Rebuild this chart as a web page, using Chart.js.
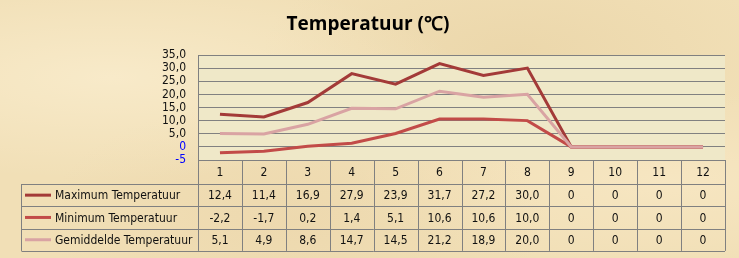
<!DOCTYPE html>
<html>
<head>
<meta charset="utf-8">
<script src="https://cdn.jsdelivr.net/npm/chart.js@4"></script>
<style>
  html, body { margin: 0; padding: 0; }
  body {
    width: 739px; height: 258px; overflow: hidden;
    background-color: #f1dfb6;
    background-image:
      radial-gradient(ellipse at 15% 30%, rgba(255,245,220,0.5), rgba(255,245,220,0) 40%),
      radial-gradient(ellipse at 70% 20%, rgba(225,200,150,0.35), rgba(225,200,150,0) 35%),
      radial-gradient(ellipse at 40% 85%, rgba(230,205,160,0.35), rgba(230,205,160,0) 40%),
      radial-gradient(ellipse at 90% 70%, rgba(255,240,210,0.4), rgba(255,240,210,0) 35%);
  }
  canvas { display: block; }
</style>
</head>
<body>
<canvas id="tempChart" width="739" height="258"></canvas>
<script>
var labels = ['1', '2', '3', '4', '5', '6', '7', '8', '9', '10', '11', '12'];
var maxTemp = [12.4, 11.4, 16.9, 27.9, 23.9, 31.7, 27.2, 30.0, 0, 0, 0, 0];
var minTemp = [-2.2, -1.7, 0.2, 1.4, 5.1, 10.6, 10.6, 10.0, 0, 0, 0, 0];
var avgTemp = [5.1, 4.9, 8.6, 14.7, 14.5, 21.2, 18.9, 20.0, 0, 0, 0, 0];
var seriesNames = ['Maximum Temperatuur', 'Minimum Temperatuur', 'Gemiddelde Temperatuur'];
var seriesColors = ['#a33a38', '#c24b48', '#d9a3a3'];

var txtFont = '12px "DejaVu Sans Condensed", "DejaVu Sans"';

function fmt(v) {
	if (v === 0) return '0';
	return v.toFixed(1).replace('.', ',');
}

// plot background + title + data table under the plot
var tablePlugin = {
	id: 'tablePlugin',
	beforeDraw: function(chart) {
		var a = chart.chartArea, c = chart.ctx;
		c.save();
		c.fillStyle = '#efe8c8';
		c.fillRect(a.left, a.top, a.right - a.left, a.bottom - a.top);
		c.restore();
	},
	afterDraw: function(chart) {
		var a = chart.chartArea, c = chart.ctx, x = chart.scales.x;
		var n = labels.length;
		var w = (a.right - a.left) / n;
		var headH = 24, rowH = 22.3, legLeft = 21.5;
		var top = a.bottom;
		c.save();
		// title
		c.fillStyle = '#000';
		c.font = 'bold 19px "Open Sans"';
		c.textAlign = 'center';
		c.textBaseline = 'middle';
		c.fillText('Temperatuur (\u2103)', 368, 25);

		c.strokeStyle = '#808080';
		c.lineWidth = 1;
		c.beginPath();
		for (var i = 0; i <= n; i++) {
			var vx = Math.round(a.left + i * w) + 0.5;
			c.moveTo(vx, top);
			c.lineTo(vx, top + headH + rowH * 3);
		}
		c.moveTo(legLeft, top + headH);
		c.lineTo(legLeft, top + headH + rowH * 3);
		for (var r = 0; r <= 3; r++) {
			var hy = Math.round(top + headH + r * rowH) + 0.5;
			c.moveTo(legLeft, hy);
			c.lineTo(a.right, hy);
		}
		c.stroke();

		c.font = txtFont;
		c.fillStyle = '#111';
		c.textAlign = 'center';
		c.textBaseline = 'middle';
		labels.forEach(function(l, i) {
			c.fillText(l, x.getPixelForValue(i), top + headH / 2 + 1);
		});
		var sets = [maxTemp, minTemp, avgTemp];
		sets.forEach(function(data, r) {
			var cy = top + headH + r * rowH + rowH / 2 + 1;
			data.forEach(function(v, i) {
				c.textAlign = 'center';
				c.fillText(fmt(v), x.getPixelForValue(i), cy);
			});
			c.strokeStyle = seriesColors[r];
			c.lineWidth = 3;
			c.beginPath();
			c.moveTo(25, cy - 1);
			c.lineTo(51, cy - 1);
			c.stroke();
			c.textAlign = 'left';
			c.fillText(seriesNames[r], 55, cy);
		});
		c.restore();
	}
};

var ctx = document.getElementById('tempChart');
var tempChart = new Chart(ctx, {
	type: 'line',
	data: {
		labels: labels,
		datasets: [
			{ label: seriesNames[0], data: maxTemp, borderColor: seriesColors[0], borderWidth: 3, pointRadius: 0, tension: 0, order: 2 },
			{ label: seriesNames[1], data: minTemp, borderColor: seriesColors[1], borderWidth: 3, pointRadius: 0, tension: 0, order: 1 },
			{ label: seriesNames[2], data: avgTemp, borderColor: seriesColors[2], borderWidth: 3, pointRadius: 0, tension: 0, order: 0 }
		]
	},
	options: {
		responsive: false,
		animation: false,
		layout: { padding: { top: 55, bottom: 98, left: 0, right: 14 } },
		plugins: { legend: { display: false }, title: { display: false }, tooltip: { enabled: false } },
		scales: {
			x: { type: 'category', offset: true, display: false },
			y: {
				min: -5, max: 35,
				afterFit: function(s) { s.width = 198; },
				ticks: {
					stepSize: 5,
					autoSkip: false,
					padding: 12,
					font: { family: '"DejaVu Sans Condensed", "DejaVu Sans"', size: 12 },
					color: function(c) { return c.tick.value <= 0 ? '#0000ff' : '#111'; },
					callback: function(v) { return v <= 0 ? String(v) : v.toFixed(1).replace('.', ','); }
				},
				grid: { color: '#808080', drawTicks: false },
				border: { color: '#808080' }
			}
		}
	},
	plugins: [tablePlugin]
});
</script>
</body>
</html>
